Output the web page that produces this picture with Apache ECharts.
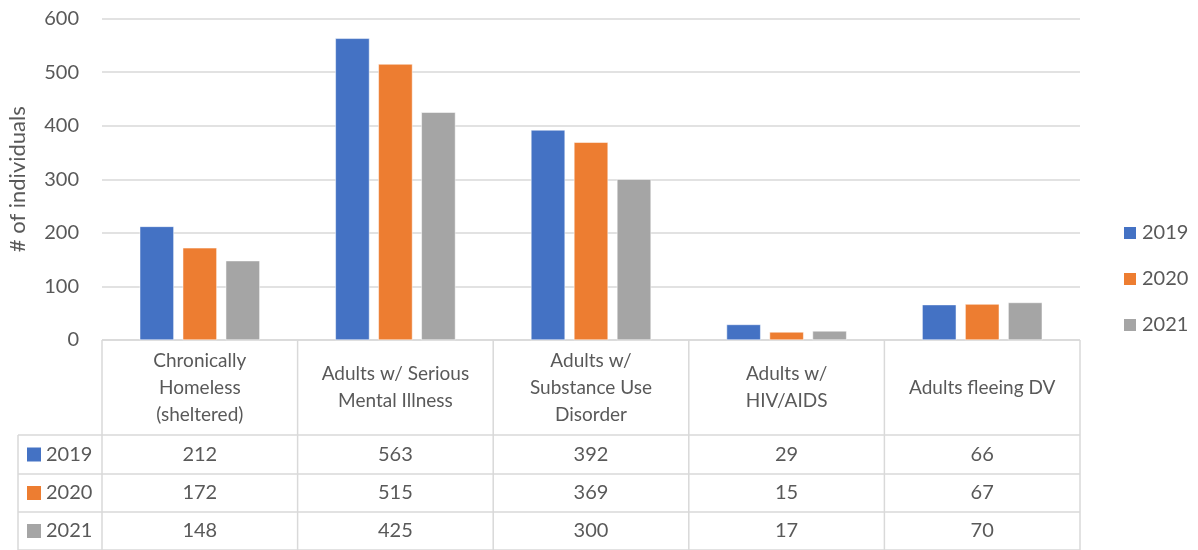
<!doctype html>
<html>
<head>
  <meta charset="UTF-8" />
  <title>Subpopulations</title>
  <script src="https://cdn.jsdelivr.net/npm/echarts@6.0.0/dist/echarts.min.js"></script>
  <style>
    html, body { margin: 0; padding: 0; background: #ffffff; }
    #chart { width: 1198px; height: 550px; }
  </style>
</head>
<body>
  <div id="chart"></div>
  <script>
    const categories = [
      "Chronically\nHomeless\n(sheltered)",
      "Adults w/ Serious\nMental Illness",
      "Adults w/\nSubstance Use\nDisorder",
      "Adults w/\nHIV/AIDS",
      "Adults fleeing DV"
    ];
    const years = ["2019", "2020", "2021"];
    const values2019 = [212, 563, 392, 29, 66];
    const values2020 = [172, 515, 369, 15, 67];
    const values2021 = [148, 425, 300, 17, 70];
    const yTicks = [0, 100, 200, 300, 400, 500, 600];

    const colors = ["#4472C4", "#ED7D31", "#A5A5A5"];
    const seriesValues = [values2019, values2020, values2021];
    const font = "Lato, 'Open Sans', sans-serif";
    const textColor = "#595959";
    const lineColor = "#D9D9D9";

    // layout of plot + data table
    const W = 1198;
    const gridLeft = 102, gridRight = 118, gridTop = 18.5, gridBottom = 210;
    const plotRight = W - gridRight;
    const catW = (plotRight - gridLeft) / categories.length;
    const tableTop = 340, headerBottom = 435;
    const rowLines = [435, 474, 512, 550];
    const keyLeft = 18;

    const chart = echarts.init(document.getElementById("chart"));

    const graphics = [];
    // horizontal lines
    graphics.push({ type: "line", shape: { x1: gridLeft, y1: tableTop, x2: plotRight, y2: tableTop },
      style: { stroke: lineColor, lineWidth: 1.5 } });
    rowLines.forEach((y) => {
      graphics.push({ type: "line", shape: { x1: keyLeft, y1: y, x2: plotRight, y2: y },
        style: { stroke: lineColor, lineWidth: 1.5 } });
    });
    // vertical lines
    graphics.push({ type: "line", shape: { x1: keyLeft, y1: headerBottom, x2: keyLeft, y2: 550 },
      style: { stroke: lineColor, lineWidth: 1.5 } });
    for (let i = 0; i <= categories.length; i++) {
      const x = gridLeft + i * catW;
      graphics.push({ type: "line", shape: { x1: x, y1: tableTop, x2: x, y2: 550 },
        style: { stroke: lineColor, lineWidth: 1.5 } });
    }
    // header texts
    categories.forEach((c, i) => {
      graphics.push({ type: "text", x: gridLeft + (i + 0.5) * catW, y: (tableTop + headerBottom) / 2,
        style: { text: c, fill: textColor, font: "19px " + font, align: "center", verticalAlign: "middle",
          lineHeight: 27 } });
    });
    // data rows
    years.forEach((yr, r) => {
      const yc = (rowLines[r] + rowLines[r + 1]) / 2;
      graphics.push({ type: "rect", shape: { x: 27, y: yc - 7, width: 14, height: 14 },
        style: { fill: colors[r] } });
      graphics.push({ type: "text", x: 46, y: yc,
        style: { text: yr, fill: textColor, font: "20px " + font, verticalAlign: "middle" } });
      seriesValues[r].forEach((v, i) => {
        graphics.push({ type: "text", x: gridLeft + (i + 0.5) * catW, y: yc,
          style: { text: String(v), fill: textColor, font: "20px " + font, align: "center",
            verticalAlign: "middle" } });
      });
    });

    const option = {
      animation: false,
      textStyle: { fontFamily: font },
      grid: { left: gridLeft, right: gridRight, top: gridTop, bottom: gridBottom,
        outerBoundsMode: "none", containLabel: false },
      legend: {
        orient: "vertical",
        left: 1117,
        top: 218,
        itemWidth: 14,
        itemHeight: 14,
        itemGap: 26,
        icon: "rect",
        data: years,
        textStyle: { color: textColor, fontSize: 20, fontFamily: font }
      },
      xAxis: {
        type: "category",
        data: categories,
        axisLine: { show: false },
        axisTick: { show: false },
        axisLabel: { show: false }
      },
      yAxis: {
        type: "value",
        min: yTicks[0],
        max: yTicks[yTicks.length - 1],
        interval: 100,
        name: "# of individuals",
        nameLocation: "middle",
        nameGap: 73,
        nameTextStyle: { color: textColor, fontSize: 22, fontFamily: font },
        axisLine: { show: false },
        axisTick: { show: false },
        axisLabel: { color: textColor, fontSize: 20, margin: 23, fontFamily: font },
        splitLine: { lineStyle: { color: lineColor, width: 1.5 } }
      },
      series: years.map((yr, i) => ({
        name: yr,
        type: "bar",
        data: seriesValues[i],
        barGap: "26%",
        barCategoryGap: "38.6%",
        itemStyle: { color: colors[i], borderColor: "#ffffff", borderWidth: 0.5 }
      })),
      graphic: graphics
    };

    chart.setOption(option);
  </script>
</body>
</html>
